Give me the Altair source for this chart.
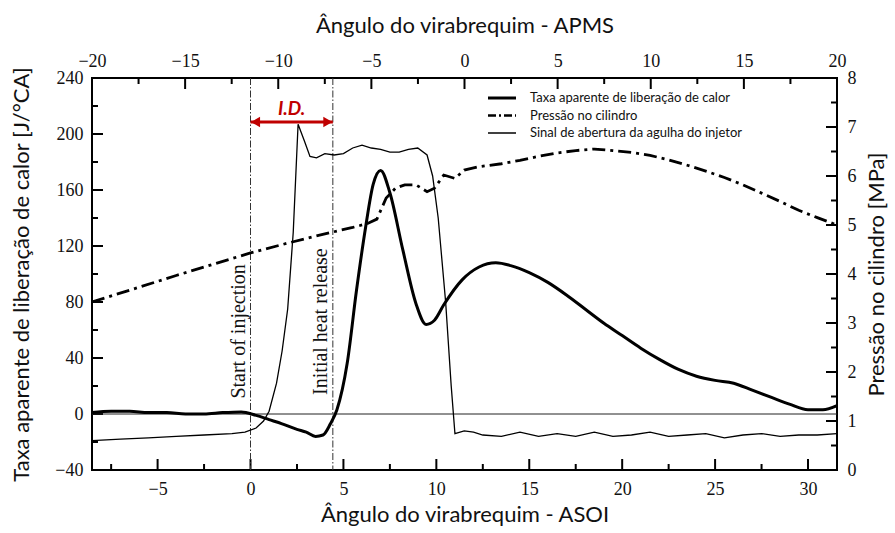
import altair as alt
import pandas as pd

# ---------------- data ----------------
# Heat release rate [J/°CA] vs crank angle ASOI
hr_x = [-8.53, -7.5, -6.5, -5.5, -4.5, -3.5, -2.5, -1.5, -0.5, 0.3, 1.0, 1.7, 2.5, 3.0, 3.5, 3.9, 4.3, 4.65,
        5.2, 5.7, 6.2, 6.6, 7.0, 7.5, 8.2, 8.9, 9.45, 9.9, 10.4, 11.4, 12.3, 13.2, 14.0, 15.0, 16.0, 17.0,
        18.0, 19.0, 20.0, 21.0, 22.0, 23.0, 24.0, 25.0, 26.0, 27.0, 28.0, 29.0, 30.0, 30.8, 31.56]
hr_y = [1, 2, 2, 1, 1, 0, 0, 1, 1.5, -1, -4, -7, -11, -13, -16, -15, -7, 3,
        36, 88, 134, 164, 174, 158, 117, 79, 64, 67, 78, 96, 105, 108, 106, 101, 94, 85,
        75, 65, 56, 47, 39, 32, 27, 24, 22, 17, 12, 7, 3, 3, 6]

# Injector needle opening signal (left scale)
inj_x = [-8.53, -7, -5.5, -4, -2.5, -1, -0.3, 0.3, 0.7, 1.0, 1.4, 1.7, 2.0, 2.3, 2.56, 2.9, 3.2, 3.55, 4.0,
         4.5, 5.0, 5.5, 6.0, 6.5, 7.0, 7.5, 8.0, 8.5, 9.0, 9.5, 9.8, 10.1, 10.5, 10.8, 11.0, 11.5, 12.0,
         12.5, 13.5, 14.5, 15.5, 16.5, 17.5, 18.5, 19.5, 20.5, 21.5, 22.5, 23.5, 24.5, 25.5, 26.5, 27.5,
         28.5, 29.5, 30.5, 31.56]
inj_y = [-19, -18, -17, -16, -15, -14, -13, -10, -5, 2, 22, 45, 75, 130, 207, 195, 184, 183, 186,
         185, 186, 190, 192, 190, 189, 187, 187, 189, 190, 185, 170, 140, 80, 20, -14, -12, -13,
         -15, -16, -13, -16, -14, -16, -13, -16, -15, -13, -16, -15, -14, -17, -15, -14,
         -16, -15, -15, -14]

# Cylinder pressure [MPa]
p_x = [-8.53, -6, -4, -2, 0, 2, 4, 5.5, 6.3, 6.8, 7.3, 7.8, 8.3, 8.9, 9.5, 9.9, 10.4, 11.0, 11.5, 12.3,
       13.5, 14.5, 15.5, 16.5, 17.5, 18.5, 19.5, 20.5, 21.5, 22.5, 23.5, 24.5, 25.5, 26.5, 27.5, 28.5,
       29.5, 30.5, 31.56]
p_y = [3.43, 3.73, 3.97, 4.2, 4.43, 4.63, 4.82, 4.95, 5.03, 5.12, 5.55, 5.75, 5.82, 5.82, 5.68, 5.75,
       6.02, 5.95, 6.12, 6.19, 6.25, 6.32, 6.4, 6.47, 6.52, 6.55, 6.52, 6.48, 6.42, 6.33, 6.22, 6.1,
       5.97, 5.82, 5.65, 5.48, 5.3, 5.15, 5.0]

# Axis ticks
asoi_major = [-5, 0, 5, 10, 15, 20, 25, 30]
asoi_minor = [-7.5, -2.5, 2.5, 7.5, 12.5, 17.5, 22.5, 27.5]
apms_major = [-20, -15, -10, -5, 0, 5, 10, 15, 20]
apms_minor = [-17.5, -12.5, -7.5, -2.5, 2.5, 7.5, 12.5, 17.5]
hr_major = [-40, 0, 40, 80, 120, 160, 200, 240]
hr_minor = [-20, 20, 60, 100, 140, 180, 220]
p_major = [0, 1, 2, 3, 4, 5, 6, 7, 8]
p_minor = [0.5, 1.5, 2.5, 3.5, 4.5, 5.5, 6.5, 7.5]

# Events / annotations
event_x = [0, 4.43]
event_label = ["Start of injection", "Initial heat release"]
event_label_y = [59, 66]
id_label = "I.D."
id_y = 208.5
id_text_y = 218

legend_labels = ["Taxa aparente de liberação de calor", "Pressão no cilindro",
                 "Sinal de abertura da agulha do injetor"]

X_ASOI = [-8.53, 31.56]
X_APMS = [-20, 20]
Y_HR = [-40, 240]
Y_P = [0, 8]

W, H = 745, 392
RED = "#C00000"
SERIF = "Liberation Serif"
SANS = "Lato"

# ---------------- helpers ----------------
def sc(dom):
    return alt.Scale(domain=dom, nice=False, zero=False)

def xa(field, dom, axis=None):
    return alt.X(field, type="quantitative", scale=sc(dom), axis=axis)

def ya(field, dom, axis=None):
    return alt.Y(field, type="quantitative", scale=sc(dom), axis=axis)

df_hr = pd.DataFrame({"x": hr_x, "y": hr_y})
df_inj = pd.DataFrame({"x": inj_x, "y": inj_y})
df_p = pd.DataFrame({"x": p_x, "y": p_y})
df_ev = pd.DataFrame({"x": event_x, "label": event_label, "ly": event_label_y})

hr_line = alt.Chart(df_hr).mark_line(color="black", strokeWidth=3, interpolate="monotone", clip=True).encode(
    x=xa("x", X_ASOI), y=ya("y", Y_HR))
inj_line = alt.Chart(df_inj).mark_line(color="black", strokeWidth=1.3, clip=True).encode(
    x=xa("x", X_ASOI), y=ya("y", Y_HR))
p_line = alt.Chart(df_p).mark_line(color="black", strokeWidth=2.8, strokeDash=[13, 5, 3, 5], clip=True).encode(
    x=xa("x", X_ASOI), y=ya("y", Y_P))

zero_line = alt.Chart(pd.DataFrame({"y": [0]})).mark_rule(color="#222", strokeWidth=1).encode(
    y=ya("y", Y_HR))
ev_lines = alt.Chart(df_ev).mark_rule(color="#333", strokeWidth=1, strokeDash=[7, 2, 1.5, 2]).encode(
    x=xa("x", X_ASOI))
ev_text = alt.Chart(df_ev).mark_text(font=SERIF, fontSize=20, angle=270, align="center",
                                     baseline="bottom", dy=-2, color="#111").encode(
    x=xa("x", X_ASOI), y=ya("ly", Y_HR), text="label:N")

df_arrow = pd.DataFrame({"x": [event_x[0]], "x2": [event_x[1]], "y": [id_y]})
arrow = alt.Chart(df_arrow).mark_rule(color=RED, strokeWidth=3).encode(
    x=xa("x", X_ASOI), x2="x2", y=ya("y", Y_HR))
head_l = alt.Chart(pd.DataFrame({"x": [event_x[0]], "y": [id_y]})).mark_point(
    shape="triangle-left", filled=True, color=RED, opacity=1, size=110, xOffset=5).encode(
    x=xa("x", X_ASOI), y=ya("y", Y_HR))
head_r = alt.Chart(pd.DataFrame({"x": [event_x[1]], "y": [id_y]})).mark_point(
    shape="triangle-right", filled=True, color=RED, opacity=1, size=110, xOffset=-5).encode(
    x=xa("x", X_ASOI), y=ya("y", Y_HR))
id_txt = alt.Chart(pd.DataFrame({"x": [(event_x[0] + event_x[1]) / 2], "y": [id_text_y], "t": [id_label]})).mark_text(
    font=SANS, fontSize=19, fontWeight="bold", fontStyle="italic", color=RED, baseline="middle").encode(
    x=xa("x", X_ASOI), y=ya("y", Y_HR), text="t:N")

# ---------------- axes (labels/titles) ----------------
LMAJ, LMIN = 11, 6
lab = dict(labelFont=SERIF, labelFontSize=18, labelColor="#111", domain=False, ticks=False, grid=False,
           labelFlush=False, titleFont=SANS, titleFontSize=22, titleFontWeight="normal", titleColor="#111")

bottom_axis = alt.Axis(orient="bottom", values=asoi_major, labelPadding=10, titlePadding=6,
                       title="Ângulo do virabrequim - ASOI", **lab)
top_axis = alt.Axis(orient="top", values=apms_major, labelPadding=8, titlePadding=15,
                    title="Ângulo do virabrequim - APMS", **lab)
left_axis = alt.Axis(orient="left", values=hr_major, labelPadding=9, titlePadding=21,
                     title="Taxa aparente de liberação de calor [J/°CA]", **lab)
right_axis = alt.Axis(orient="right", values=p_major, labelPadding=10, titlePadding=10, titleAngle=270,
                      titleBaseline="top", title="Pressão no cilindro [MPa]", **lab)

# ---------------- inward tick marks: two-point line segments in data space ----------------
def unit(dom, px, total):
    return px * (dom[1] - dom[0]) / total

main_rows, alt_rows = [], []
k = 0
for vals, ln in ((asoi_major, LMAJ), (asoi_minor, LMIN)):
    for v in vals:
        main_rows += [{"id": k, "o": 0, "x": v, "y": Y_HR[0]},
                      {"id": k, "o": 1, "x": v, "y": Y_HR[0] + unit(Y_HR, ln, H)}]
        k += 1
for vals, ln in ((hr_major, LMAJ), (hr_minor, LMIN)):
    for v in vals:
        main_rows += [{"id": k, "o": 0, "x": X_ASOI[0], "y": v},
                      {"id": k, "o": 1, "x": X_ASOI[0] + unit(X_ASOI, ln, W), "y": v}]
        k += 1
for vals, ln in ((apms_major, LMAJ), (apms_minor, LMIN)):
    for v in vals:
        alt_rows += [{"id": k, "o": 0, "x": v, "y": Y_P[1]},
                     {"id": k, "o": 1, "x": v, "y": Y_P[1] - unit(Y_P, ln, H)}]
        k += 1
for vals, ln in ((p_major, LMAJ), (p_minor, LMIN)):
    for v in vals:
        alt_rows += [{"id": k, "o": 0, "x": X_APMS[1], "y": v},
                     {"id": k, "o": 1, "x": X_APMS[1] - unit(X_APMS, ln, W), "y": v}]
        k += 1

ticks_main = alt.Chart(pd.DataFrame(main_rows)).mark_line(color="black", strokeWidth=2).encode(
    x=xa("x", X_ASOI, bottom_axis), y=ya("y", Y_HR, left_axis), detail="id:N", order="o:Q")
ticks_alt = alt.Chart(pd.DataFrame(alt_rows)).mark_line(color="black", strokeWidth=2).encode(
    x=xa("x", X_APMS, top_axis), y=ya("y", Y_P, right_axis), detail="id:N", order="o:Q")

# ---------------- manual legend ----------------
leg_styles = [dict(strokeWidth=3), dict(strokeWidth=2.6, strokeDash=[8, 3, 2, 3]), dict(strokeWidth=1.5)]
leg_layers = []
for i, (txt, st) in enumerate(zip(legend_labels, leg_styles)):
    yy = 20 + i * 17.5
    one = pd.DataFrame({"t": [txt]})
    leg_layers.append(alt.Chart(one).mark_rule(color="black", **st).encode(
        x=alt.value(396), x2=alt.value(424), y=alt.value(yy)))
    leg_layers.append(alt.Chart(one).mark_text(font=SANS, fontSize=13, align="left", baseline="middle",
                                               color="#111").encode(
        x=alt.value(438), y=alt.value(yy), text="t:N"))

chart = alt.layer(
    ticks_main, ticks_alt,
    zero_line, ev_lines, ev_text, inj_line, p_line, hr_line, arrow, head_l, head_r, id_txt,
    *leg_layers
).resolve_scale(x="independent", y="independent").properties(
    width=W, height=H,
    autosize=alt.AutoSizeParams(type="none"),
    padding={"left": 92, "top": 78, "right": 58, "bottom": 63},
    background="white",
).configure_view(stroke="black", strokeWidth=2)

chart.save("out.html", embed_options={"renderer": "svg", "actions": False})
